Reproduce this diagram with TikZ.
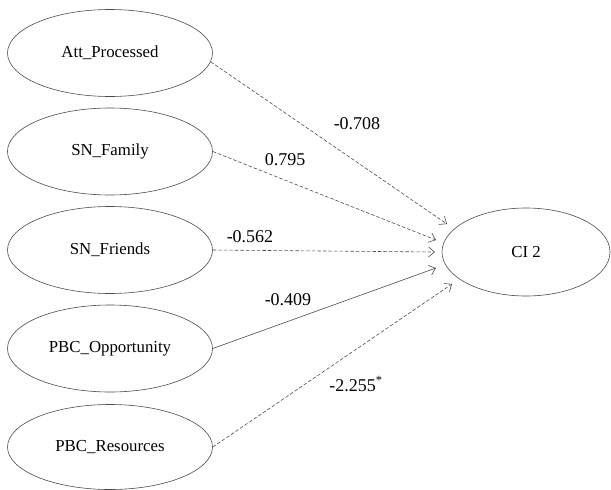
\documentclass[tikz,border=0pt]{standalone}
\usepackage{fontspec}
\setmainfont{Liberation Serif}
\newfontfamily\tnr{Liberation Serif}
\usetikzlibrary{shapes.geometric,arrows.meta}
\begin{document}
\begin{tikzpicture}[x=1pt,y=-1pt,
  lat/.style={draw=black!70,line width=0.6pt,ellipse,inner sep=0pt,
    font=\tnr\fontsize{16.8}{20}\selectfont},
  path/.style={draw=black!70,line width=0.6pt,-{Straight Barb[length=6pt,width=10pt]}},
  dpath/.style={path,dash pattern=on 3.5pt off 2pt},
  coef/.style={font=\tnr\fontsize{18}{21}\selectfont,inner sep=0pt}]
\useasboundingbox (0,0) rectangle (611,490);
\node[lat,minimum width=205,minimum height=87] (att) at (110,53) {Att\_Processed};
\node[lat,minimum width=205,minimum height=87] (fam) at (110,151.5) {SN\_Family};
\node[lat,minimum width=205,minimum height=87] (fri) at (110,250) {SN\_Friends};
\node[lat,minimum width=205,minimum height=87] (opp) at (110,348.5) {PBC\_Opportunity};
\node[lat,minimum width=205,minimum height=85] (res) at (110,447) {PBC\_Resources};
\node[lat,minimum width=168,minimum height=88] (ci) at (526,252) {CI 2};
\coordinate (t1) at (447,224);
\coordinate (t2) at (436,240);
\coordinate (t3) at (435,252);
\coordinate (t4) at (436,268);
\coordinate (t5) at (452,284);
\draw[dpath] (att.-5) -- (t1);
\draw[dpath] (fam.east) -- (t2);
\draw[dpath] (fri.east) -- (t3);
\draw[path] (opp.east) -- (t4);
\draw[dpath] (res.east) -- (t5);
\node[coef] (c1) at (357,124) {-0.708};
\node[coef] (c2) at (285,160) {0.795};
\node[coef] (c3) at (250,237) {-0.562};
\node[coef] (c4) at (288,300) {-0.409};
\node[coef] (c5) at (356,384) {-2.255\textsuperscript{*}};
\end{tikzpicture}
\end{document}
